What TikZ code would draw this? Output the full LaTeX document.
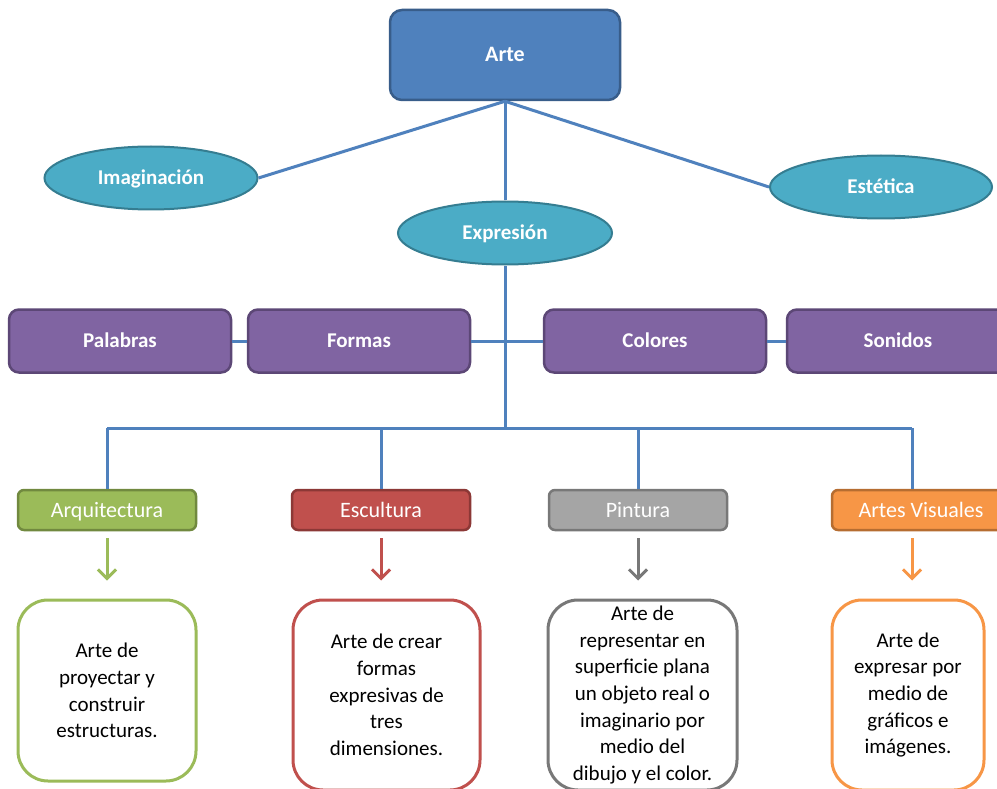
\documentclass[tikz,border=0pt]{standalone}
\usepackage{fontspec}
\setmainfont{Carlito}
\usetikzlibrary{arrows.meta,shapes.geometric}

\definecolor{artefill}{HTML}{4F81BD}
\definecolor{artedraw}{HTML}{385D8A}
\definecolor{elfill}{HTML}{4BACC6}
\definecolor{eldraw}{HTML}{357D91}
\definecolor{purfill}{HTML}{8064A2}
\definecolor{purdraw}{HTML}{5C4776}
\definecolor{verde}{HTML}{9BBB59}
\definecolor{verdeosc}{HTML}{71893F}
\definecolor{rojo}{HTML}{C0504D}
\definecolor{rojoosc}{HTML}{8C3836}
\definecolor{gris}{HTML}{A5A5A5}
\definecolor{grisosc}{HTML}{787878}
\definecolor{naranja}{HTML}{F79646}
\definecolor{naranjaosc}{HTML}{B66D31}

\begin{document}
\begin{tikzpicture}[x=1pt,y=-1pt,>={Straight Barb[length=9pt,width=18pt]}]

  \tikzstyle{raiz}=[rectangle,rounded corners=12pt,line width=2.5pt,draw=artedraw,fill=artefill,minimum width=230pt,minimum height=90pt,text height=14pt,text depth=0pt,text=white,font=\fontsize{22}{26}\selectfont\bfseries]
  \tikzstyle{idea}=[ellipse,line width=2pt,draw=eldraw,fill=elfill,inner sep=0pt,minimum height=63pt,text height=13.5pt,text depth=0pt,text=white,font=\fontsize{21}{26}\selectfont\bfseries]
  \tikzstyle{medio}=[rectangle,rounded corners=10pt,line width=2.5pt,draw=purdraw,fill=purfill,minimum width=222pt,minimum height=63pt,text height=13.5pt,text depth=0pt,text=white,font=\fontsize{21}{26}\selectfont\bfseries]
  \tikzstyle{rama}=[rectangle,rounded corners=6pt,line width=2.5pt,minimum width=178pt,minimum height=40pt,text height=14pt,text depth=0pt,text=white,font=\fontsize{22}{26}\selectfont]
  \tikzstyle{defin}=[rectangle,rounded corners=30pt,line width=3pt,fill=white,inner sep=0pt,align=center,font=\fontsize{21}{26.7}\selectfont]
  \tikzstyle{enlace}=[line width=3pt,draw=artefill]
  \tikzstyle{flecha}=[line width=3pt,->,shorten <=7pt,shorten >=18pt]

  \useasboundingbox[fill=white] (0,0) rectangle (997,789);

  % nivel superior
  \node [raiz] (arte) at (505,55) {Arte};
  \node [idea,minimum width=213pt] (imag) at (151,178) {Imaginación};
  \node [idea,minimum width=222pt] (est) at (881,187) {Estética};
  \node [idea,minimum width=214pt] (expr) at (505,233) {Expresión};

  \draw [enlace] (arte.south) -- (imag.east);
  \draw [enlace] (arte.south) -- (est.west);
  \draw [enlace] (arte.south) -- (expr.north);

  % medios de expresion
  \coordinate (b1) at (107,428);
  \coordinate (b2) at (381,428);
  \coordinate (b3) at (638,428);
  \coordinate (b4) at (912,428);

  \draw [enlace] (expr.south) -- (expr.south |- b1);
  \draw [enlace] (b1) -- (b4);

  \node [medio] (pal) at (120,341) {Palabras};
  \node [medio] (for) at (359,341) {Formas};
  \node [medio] (col) at (655,341) {Colores};
  \node [medio] (son) at (898,341) {Sonidos};

  \draw [enlace] (pal.east) -- (for.west);
  \draw [enlace] (for.east) -- (col.west);
  \draw [enlace] (col.east) -- (son.west);

  % ramas
  \node [rama,draw=verdeosc,fill=verde] (arq) at (107,510) {Arquitectura};
  \node [rama,draw=rojoosc,fill=rojo] (esc) at (381,510) {Escultura};
  \node [rama,draw=grisosc,fill=gris] (pin) at (638,510) {Pintura};
  \node [rama,draw=naranjaosc,fill=naranja] (av) at (921,510) {Artes Visuales};

  \draw [enlace] (b1) -- (arq.north);
  \draw [enlace] (b2) -- (esc.north);
  \draw [enlace] (b3) -- (pin.north);
  \draw [enlace] (b4) -- (b4 |- av.north);

  % definiciones
  \node [defin,draw=verde,minimum width=178pt,minimum height=181pt] (arqd) at (107,690.5)
    {Arte de\\proyectar y\\construir\\estructuras.};
  \node [defin,draw=rojo,minimum width=187pt,minimum height=190pt] (escd) at (386.5,695)
    {Arte de crear\\formas\\expresivas de\\tres\\dimensiones.};
  \node [defin,draw=grisosc,minimum width=189pt,minimum height=190pt] (pind) at (642.5,695)
    {Arte de\\representar en\\superficie plana\\un objeto real o\\imaginario por\\medio del\\dibujo y el color.};
  \node [defin,draw=naranja,minimum width=152pt,minimum height=190pt] (avd) at (908,695)
    {Arte de\\expresar por\\medio de\\gráficos e\\imágenes.};

  \draw [flecha,draw=verde] (arq.south) -- (arqd.north -| arq.south);
  \draw [flecha,draw=rojo] (esc.south) -- (escd.north -| esc.south);
  \draw [flecha,draw=grisosc] (pin.south) -- (pind.north -| pin.south);
  \draw [flecha,draw=naranja] (b4 |- av.south) -- (b4 |- avd.north);

\end{tikzpicture}
\end{document}
